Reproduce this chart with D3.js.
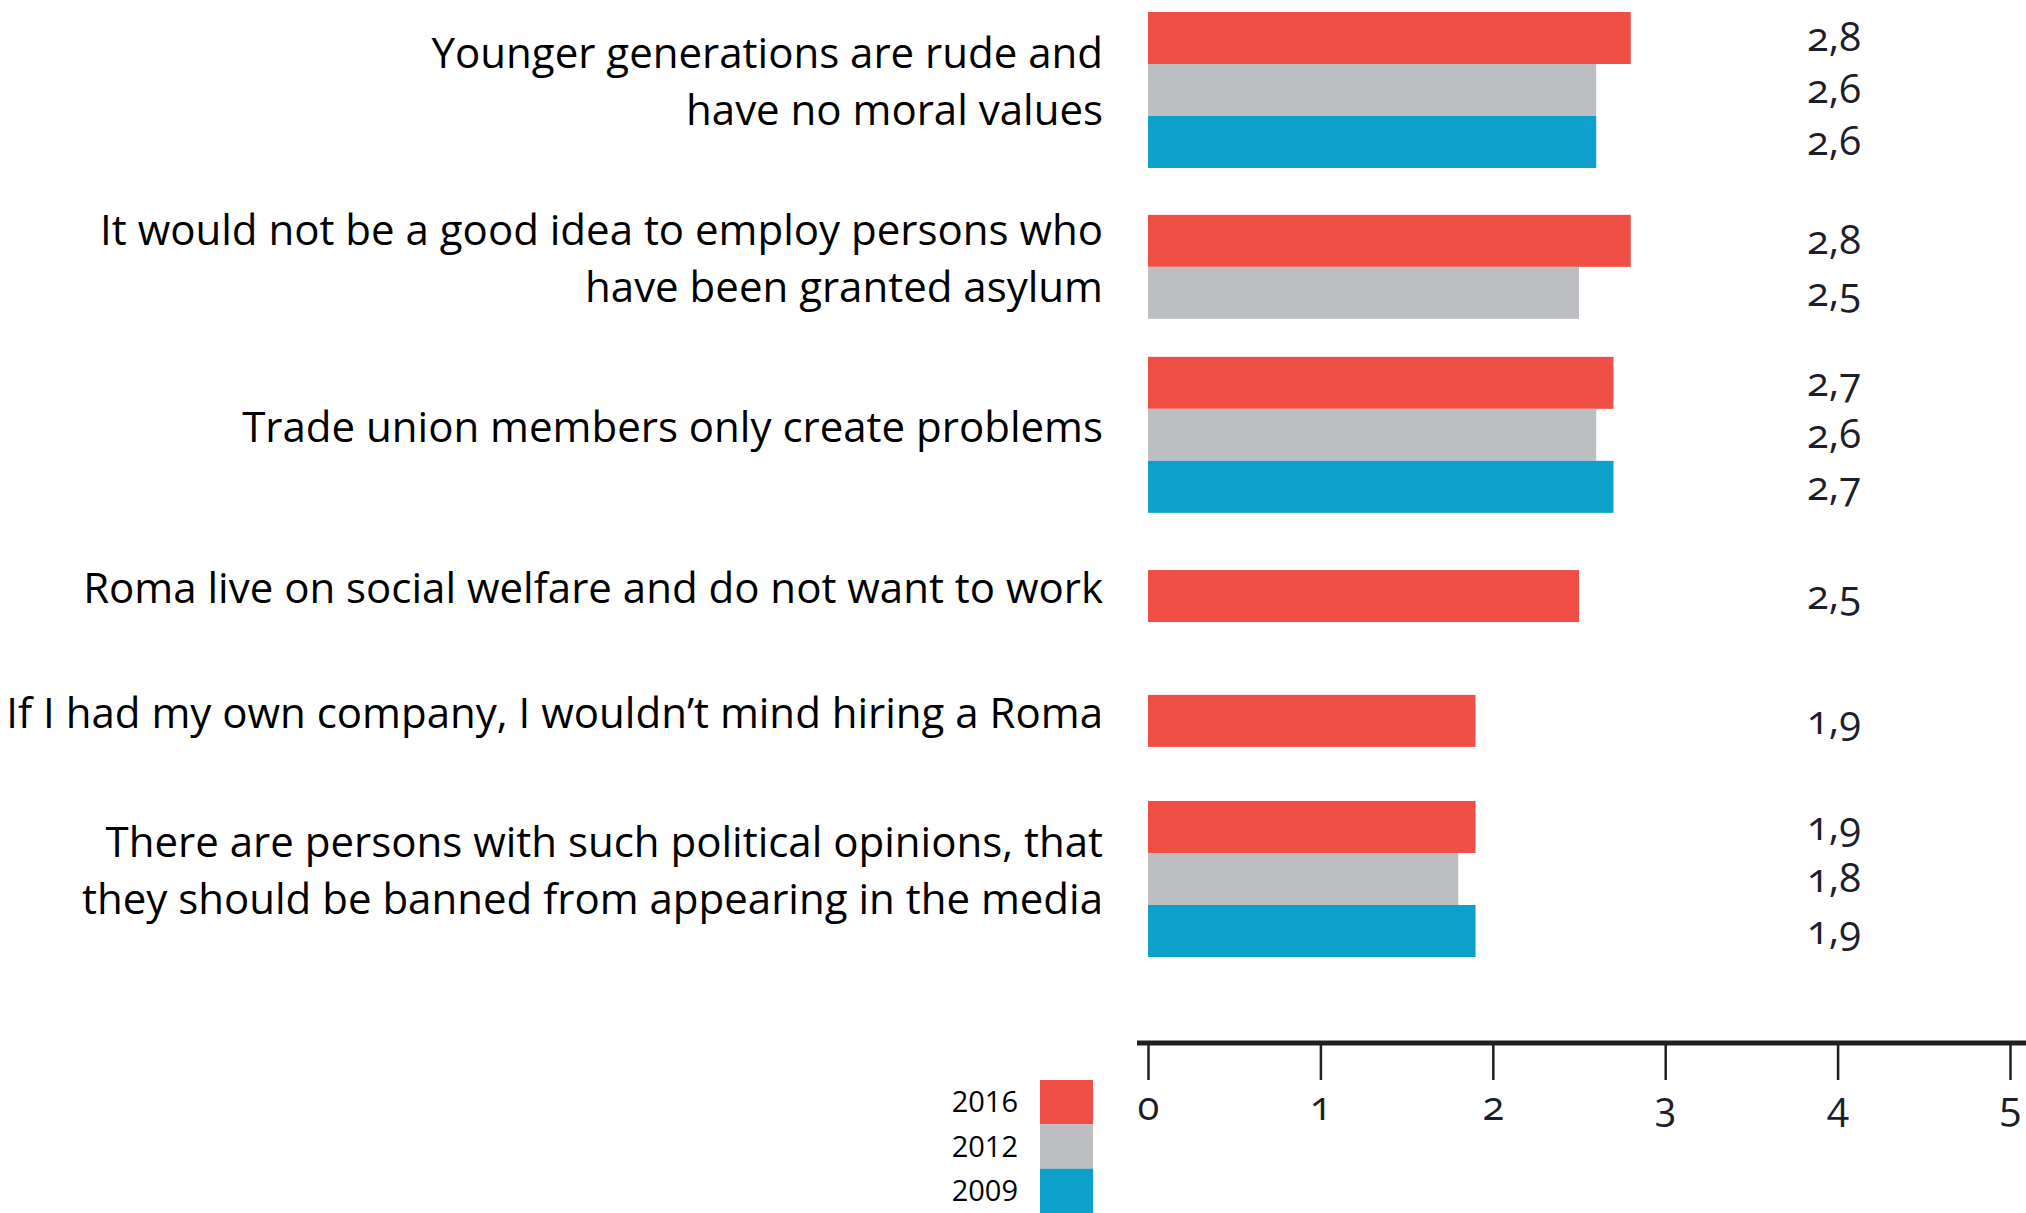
<!DOCTYPE html>
<html>
<head>
<meta charset="utf-8">
<title>Attitudes by year</title>
<style>
  body { margin: 0; background: #fff; }
  svg { display: block; }
</style>
</head>
<body>
<script src="https://cdn.jsdelivr.net/npm/d3@7"></script>
<script>

// statements (one entry per group, split into display lines)
var categories = [
    ["Younger generations are rude and", "have no moral values"],
    ["It would not be a good idea to employ persons who", "have been granted asylum"],
    ["Trade union members only create problems"],
    ["Roma live on social welfare and do not want to work"],
    ["If I had my own company, I wouldn\u2019t mind hiring a Roma"],
    ["There are persons with such political opinions, that", "they should be banned from appearing in the media"]
];

var years = ["2016", "2012", "2009"];

// mean scores, null = not asked that year
var v2016 = [2.8, 2.8, 2.7, 2.5, 1.9, 1.9];
var v2012 = [2.6, 2.5, 2.6, null, null, 1.8];
var v2009 = [2.6, null, 2.7, null, null, 1.9];

var tickValues = [0, 1, 2, 3, 4, 5];

var colors = ["#f04f45", "#bdbec1", "#0ca0cb"];

// layout: empty space between groups, in bar heights
var groupGap = [0.9, 0.73, 1.1, 1.4, 1.04];

var width = 2026, height = 1213;
var series = [v2016, v2012, v2009];

var svg = d3.select("body").append("svg")
    .attr("width", width)
    .attr("height", height);

var x = d3.scaleLinear().domain([0, 5]).range([1148, 2010]);

// work out where each group starts, counted in bar rows
var rowStart = [], rows = 0;
categories.forEach(function(c, i) {
    if (i > 0) rows += groupGap[i - 1];
    rowStart.push(rows);
    series.forEach(function(s) { if (s[i] != null) rows += 1; });
});

var y = d3.scaleLinear().domain([0, rows]).range([12, 957]);

// flatten into bar records
var bars = [];
categories.forEach(function(c, i) {
    var slot = 0;
    series.forEach(function(s, k) {
        if (s[i] == null) return;
        bars.push({group: i, year: k, value: s[i], row: rowStart[i] + slot});
        slot++;
    });
});

var locale = d3.formatLocale({decimal: ",", thousands: ".", grouping: [3], currency: ["", ""]});
var fmt = locale.format(".1f");

svg.append("g").selectAll("rect")
    .data(bars)
    .enter().append("rect")
    .attr("x", x(0))
    .attr("y", function(d) { return y(d.row); })
    .attr("width", function(d) { return x(d.value) - x(0); })
    .attr("height", function(d) { return y(d.row + 1) - y(d.row); })
    .style("fill", function(d) { return colors[d.year]; });

// value column on the right
svg.append("g").selectAll("text")
    .data(bars)
    .enter().append("text")
    .attr("x", 1807)
    .attr("y", function(d) { return (y(d.row) + y(d.row + 1)) / 2 - 1; })
    .attr("dy", "0.35em")
    .style("font-family", "'Open Sans', sans-serif")
    .style("font-size", "40px")
    .style("font-variant-numeric", "oldstyle-nums")
    .style("fill", "#1e1e2a")
    .text(function(d) { return fmt(d.value); });

// statement labels, right aligned against the bars
var lineH = 57;
var labels = svg.append("g").selectAll("text")
    .data(categories)
    .enter().append("text")
    .attr("text-anchor", "end")
    .style("font-family", "'Open Sans', sans-serif")
    .style("font-size", "42px")
    .style("fill", "#000");

labels.each(function(lines, i) {
    var n = 0;
    series.forEach(function(s) { if (s[i] != null) n++; });
    var mid = (y(rowStart[i]) + y(rowStart[i] + n)) / 2 - 8;
    var t = d3.select(this);
    lines.forEach(function(line, j) {
        t.append("tspan")
            .attr("x", 1103)
            .attr("y", mid + (j - (lines.length - 1) / 2) * lineH)
            .attr("dy", "0.35em")
            .text(line);
    });
});

// x axis
var axisY = 1043;
var axis = svg.append("g")
    .attr("transform", "translate(0," + axisY + ")")
    .call(d3.axisBottom(x).tickValues(tickValues).tickSize(37).tickPadding(12).tickFormat(d3.format("d")));

axis.select(".domain").remove();
axis.selectAll(".tick line")
    .style("stroke", "#231f20")
    .style("stroke-width", "2.5px");
axis.selectAll(".tick text")
    .style("font-family", "'Open Sans', sans-serif")
    .style("font-size", "40px")
    .style("font-variant-numeric", "oldstyle-nums")
    .style("fill", "#1e1e2a");

axis.append("line")
    .attr("x1", x(0) - 11)
    .attr("x2", width)
    .attr("y1", 0)
    .attr("y2", 0)
    .style("stroke", "#231f20")
    .style("stroke-width", "5px");

// legend
var ly = d3.scaleBand().domain(years).range([1080, 1213]);

var legend = svg.append("g").selectAll("g")
    .data(years)
    .enter().append("g");

legend.append("rect")
    .attr("x", 1040)
    .attr("y", function(d) { return ly(d); })
    .attr("width", 53)
    .attr("height", ly.bandwidth())
    .style("fill", function(d, i) { return colors[i]; });

legend.append("text")
    .attr("x", 1018)
    .attr("y", function(d) { return ly(d) + ly.bandwidth() / 2; })
    .attr("dy", "0.35em")
    .attr("text-anchor", "end")
    .style("font-family", "'Open Sans', sans-serif")
    .style("font-size", "29px")
    .style("fill", "#000")
    .text(function(d) { return d; });

</script>
</body>
</html>
